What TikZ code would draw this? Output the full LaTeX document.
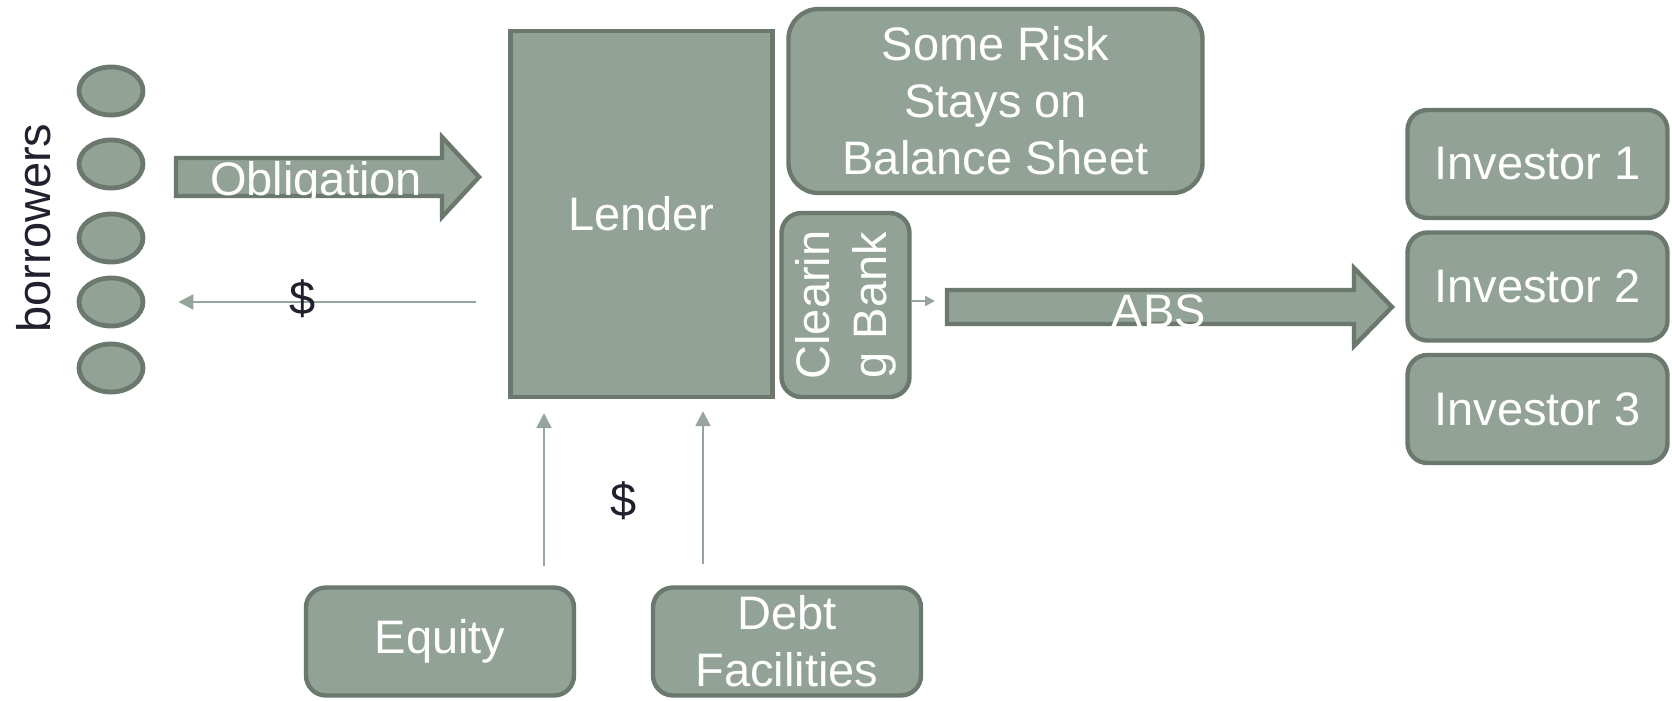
\documentclass[tikz,border=0pt]{standalone}
\usepackage{fontspec}
\setmainfont{Liberation Sans}
\usetikzlibrary{arrows.meta,shapes.geometric}
\definecolor{sgfill}{HTML}{93A297}
\definecolor{sgline}{HTML}{6B786D}
\definecolor{sgflow}{HTML}{96A59B}
\definecolor{sgink}{HTML}{20202E}
\newcommand{\slidefont}{\fontsize{23.5}{28.5}\selectfont}
\tikzset{
  box/.style  = {rectangle, rounded corners=10pt, draw=sgline, line width=2.2pt,
                 fill=sgfill, text=white, font=\slidefont, align=center, inner sep=0pt},
  bor/.style  = {ellipse, draw=sgline, line width=2.4pt, fill=sgfill,
                 minimum width=32pt, minimum height=24pt, inner sep=0pt},
  blk/.style  = {draw=sgline, line width=2.2pt, fill=sgfill, line join=miter},
  ed/.style   = {-{Triangle[length=7.5pt,width=7.5pt]}, draw=sgflow, line width=1.2pt},
  lbl/.style  = {font=\slidefont, text=sgink, inner sep=0pt},
  wlbl/.style = {font=\slidefont, text=white, inner sep=0pt},
}

\begin{document}
\begin{tikzpicture}[x=0.5pt,y=-0.5pt]
  \useasboundingbox (0,0) rectangle (1672,701);
  % borrowers
  \foreach \y [count=\i] in {91,164,238,302,368}
    \node[bor] (b\i) at (111,\y) {};
  \node[lbl, rotate=90, anchor=base] (borr) at (50,228) {borrowers};
  % lender and its boxes
  \node[box, sharp corners, minimum width=131pt, minimum height=183pt] (lender)
    at (641.5,214) {Lender};
  \node[box, rounded corners=15pt, minimum width=207pt, minimum height=92pt] (risk)
    at (995.5,101) {Some Risk\\Stays on\\Balance Sheet};
  \node[box, minimum width=64pt, minimum height=92pt] (clear) at (845.5,305) {};
  \node[wlbl, rotate=90, align=center] (clearlbl) at (clear.center) {Clearin\\g Bank};
  \foreach \y [count=\i] in {164,286.5,409}
    \node[box, minimum width=130pt, minimum height=54pt] (inv\i) at (1537.5,\y) {Investor \i};
  \node[box, minimum width=134pt, minimum height=54pt] (equity) at (440,641.5) {Equity};
  \node[box, minimum width=134pt, minimum height=54pt] (debt) at (787,641.5) {Debt\\Facilities};
  % block arrows
  \draw[blk] (176,158) -- (442,158) -- (442,137) -- (479,177) -- (442,217)
    -- (442,196) -- (176,196) -- cycle;
  \begin{scope}
    \clip (176,158) rectangle (442,198);
    \node[wlbl, anchor=base] (oblig) at (316,196) {Obligation};
  \end{scope}
  \draw[blk] (947,290) -- (1354,290) -- (1354,268) -- (1392,307) -- (1354,346)
    -- (1354,324) -- (947,324) -- cycle;
  \coordinate (abstail) at (947,301);
  \node[wlbl, anchor=base] (abs) at (1159,327) {ABS};
  % cash flows
  \draw[ed, shorten <=16pt, shorten >=16.5pt] (lender.west |- b4) -- (b4.east);
  \node[lbl] (cash1) at (303,299) {\$};
  \coordinate (up1) at (544,0);
  \coordinate (up2) at (703,0);
  \draw[ed, shorten <=9.75pt, shorten >=7pt] (equity.north -| up1) -- (lender.south -| up1);
  \draw[ed, shorten <=10.75pt, shorten >=6pt] (debt.north -| up2) -- (lender.south -| up2);
  \node[lbl] (cash2) at (624,501) {\$};
  \draw[ed, -{Triangle[length=5pt,width=5pt]}, shorten >=6pt] (clear.east |- abstail) -- (abstail);
\end{tikzpicture}
\end{document}
